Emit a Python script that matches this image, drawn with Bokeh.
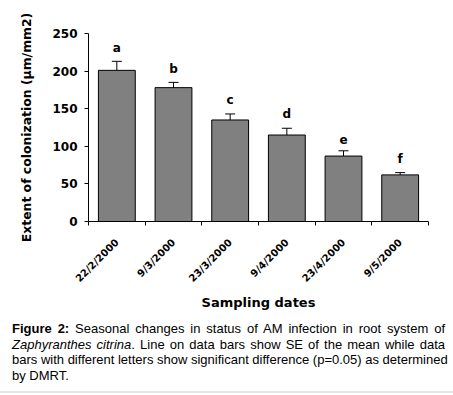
import math
from bokeh.plotting import figure
from bokeh.models import (ColumnDataSource, Range1d, FixedTicker, Whisker, TeeHead, Div)
from bokeh.layouts import column
from bokeh.core.properties import value
from bokeh.embed import file_html
from bokeh.resources import INLINE

# ---- data ----
dates = ["22/2/2000", "9/3/2000", "23/3/2000", "9/4/2000", "23/4/2000", "9/5/2000"]
means = [201, 178, 135, 115, 87, 62]
se = [12, 7, 8, 9, 7, 3]
letters = ["a", "b", "c", "d", "e", "f"]
y_ticks = [0, 50, 100, 150, 200, 250]

pos = list(range(1, len(dates) + 1))
upper = [m + s for m, s in zip(means, se)]
lower = [m - s for m, s in zip(means, se)]
src = ColumnDataSource(dict(x=pos, top=means, upper=upper, lower=lower,
                            ly=[u + 9 for u in upper], letter=letters))

FONT = "DejaVu Sans"

p = figure(width=448, height=312, output_backend="svg", toolbar_location=None,
           x_range=Range1d(0.5, len(dates) + 0.5), y_range=Range1d(0, 250),
           min_border_left=88, min_border_top=33, min_border_right=20, min_border_bottom=90)
p.outline_line_color = None
p.xgrid.visible = False
p.ygrid.visible = False
p.background_fill_color = "white"
p.border_fill_color = "white"

p.vbar(x="x", top="top", width=0.65, bottom=0, source=src,
       fill_color="#808080", line_color="black", line_width=1)

w = Whisker(source=src, base="x", upper="upper", lower="lower", line_color="black", line_width=1,
            upper_head=TeeHead(size=10, line_color="black", line_width=1),
            lower_head=TeeHead(size=10, line_color="black", line_width=1))
p.add_layout(w)

p.text(x="x", y="ly", text="letter", source=src, text_align="center", text_baseline="bottom",
       text_font=value(FONT), text_font_style="bold", text_font_size="12px", text_color="black")

# x axis
xa = p.xaxis[0]
xa.ticker = FixedTicker(ticks=pos, minor_ticks=[i + 0.5 for i in range(0, len(dates) + 1)])
xa.major_label_overrides = {i: d for i, d in zip(pos, dates)}
xa.major_tick_in = 0
xa.major_tick_out = 0
xa.minor_tick_in = 0
xa.minor_tick_out = 4
xa.minor_tick_line_color = "black"
xa.major_label_orientation = math.pi / 4
xa.major_label_standoff = 15
xa.major_label_text_font = FONT
xa.major_label_text_font_style = "bold"
xa.major_label_text_font_size = "10px"
xa.major_label_text_color = "black"
xa.axis_label = "Sampling dates"
xa.axis_label_text_font = FONT
xa.axis_label_text_font_style = "bold"
xa.axis_label_text_font_size = "13px"
xa.axis_label_text_color = "black"
xa.axis_label_standoff = 4
xa.axis_line_color = "black"

# y axis
ya = p.yaxis[0]
ya.ticker = FixedTicker(ticks=y_ticks)
ya.major_tick_in = 0
ya.major_tick_out = 4
ya.major_tick_line_color = "black"
ya.minor_tick_line_color = None
ya.major_label_standoff = 7
ya.major_label_text_font = FONT
ya.major_label_text_font_style = "bold"
ya.major_label_text_font_size = "12px"
ya.major_label_text_color = "black"
ya.axis_label = "Extent of colonization (\u03bcm/mm2)"
ya.axis_label_text_font = FONT
ya.axis_label_text_font_style = "bold"
ya.axis_label_text_font_size = "12.4px"
ya.axis_label_text_color = "black"
ya.axis_label_standoff = 15
ya.axis_line_color = "black"

line = "text-align:justify;text-align-last:justify;white-space:nowrap;"
caption_html = (
    "<div style=\"font-family:'Liberation Sans',Arial,sans-serif;font-size:13px;line-height:15.6px;"
    "color:#000;width:433px;\">"
    f"<div style='{line}'><b>Figure 2:</b> Seasonal changes in status of AM infection in root system of</div>"
    f"<div style='{line}'><i>Zaphyranthes citrina</i>. Line on data bars show SE of the mean while data</div>"
    f"<div style='{line}'>bars with different letters show significant difference (p=0.05) as determined</div>"
    "<div>by DMRT.</div>"
    "</div>"
)
cap = Div(text=caption_html, width=433, margin=(9, 0, 0, 12))
rule = Div(text="", width=453, height=2, margin=(6, 0, 0, 0),
           styles={"background-color": "#e6e6e6"})

layout = column(p, cap, rule, spacing=0)
open("out.html", "w").write(file_html(layout, INLINE))
